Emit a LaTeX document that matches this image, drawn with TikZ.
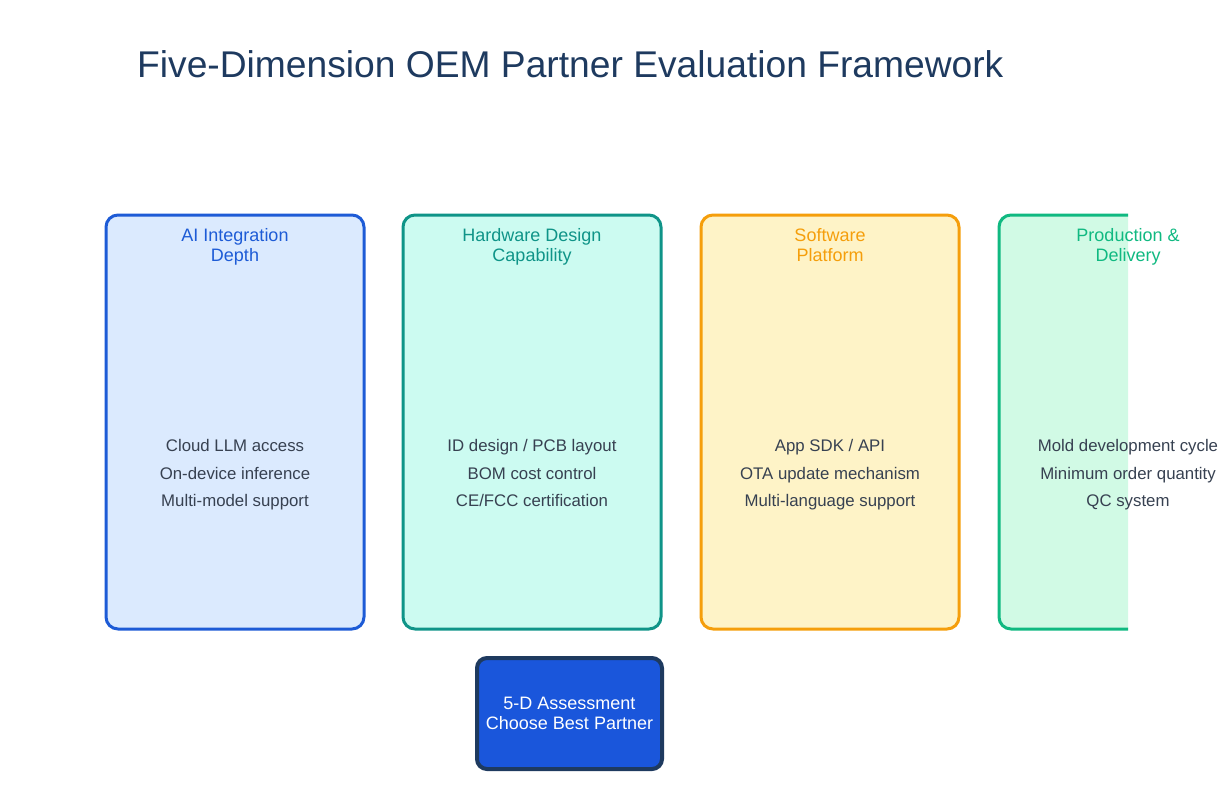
\documentclass[tikz,border=0pt]{standalone}
\usepackage{fontspec}
\setmainfont{Liberation Sans}
\usetikzlibrary{positioning}
\definecolor{titleCol}{HTML}{1E3A5F}
\definecolor{aiLine}{HTML}{1D5BD6}
\definecolor{aiFill}{HTML}{DBEAFE}
\definecolor{hwLine}{HTML}{0F9488}
\definecolor{hwFill}{HTML}{CCFBF1}
\definecolor{swLine}{HTML}{F59E0B}
\definecolor{swFill}{HTML}{FEF3C7}
\definecolor{prLine}{HTML}{10B981}
\definecolor{prFill}{HTML}{D1FAE5}
\definecolor{bodyCol}{HTML}{374151}
\definecolor{pickFill}{HTML}{1A56DB}
\definecolor{pickLine}{HTML}{1E3A5F}

\begin{document}
\begin{tikzpicture}[x=1pt,y=-1pt,
  dimbox/.style={draw,line width=3pt,rounded corners=12pt,minimum width=258pt,minimum height=414pt,inner sep=0pt},
  dimhead/.style={anchor=north,align=center,inner sep=0pt,font=\fontsize{18}{20}\selectfont},
  dimlist/.style={anchor=north,align=center,inner sep=0pt,text=bodyCol,font=\fontsize{16.8}{27.7}\selectfont}]
\useasboundingbox (0,0) rectangle (1230,809);
%% title
\node [anchor=west,inner sep=0pt,text=titleCol,font=\fontsize{37.2}{42}\selectfont] (mainTitle) at (137,64) {Five-Dimension OEM Partner Evaluation Framework};
%the boxes
\node [dimbox,draw=aiLine,fill=aiFill] (aiBox) at (235,422) {};
\node [dimbox,draw=hwLine,fill=hwFill] (hwBox) at (532,422) {};
\node [dimbox,draw=swLine,fill=swFill] (swBox) at (830,422) {};
\begin{scope}
\clip (990,200) rectangle (1128,650);
\node [dimbox,draw=prLine,fill=prFill] (prBox) at (1128,422) {};
\end{scope}
%box headings
\node [dimhead,text=aiLine] (aiHead) at (235,228) {AI Integration\\Depth};
\node [dimhead,text=hwLine] (hwHead) at (532,228) {Hardware Design\\Capability};
\node [dimhead,text=swLine] (swHead) at (830,228) {Software\\Platform};
\node [dimhead,text=prLine] (prHead) at (1128,228) {Production \&\\Delivery};
%box contents
\node [dimlist] (aiList) at (235,439) {Cloud LLM access\\On-device inference\\Multi-model support};
\node [dimlist] (hwList) at (532,439) {ID design / PCB layout\\BOM cost control\\CE/FCC certification};
\node [dimlist] (swList) at (830,439) {App SDK / API\\OTA update mechanism\\Multi-language support};
\node [dimlist] (prList) at (1128,439) {Mold development cycle\\Minimum order quantity\\QC system};
%% result box
\node [draw=pickLine,fill=pickFill,line width=4pt,rounded corners=10pt,minimum width=185pt,minimum height=111pt,
  text=white,align=center,font=\fontsize{18}{20}\selectfont] (pickBox) at (569.5,713.5) {5-D Assessment\\Choose Best Partner};
\end{tikzpicture}
\end{document}
